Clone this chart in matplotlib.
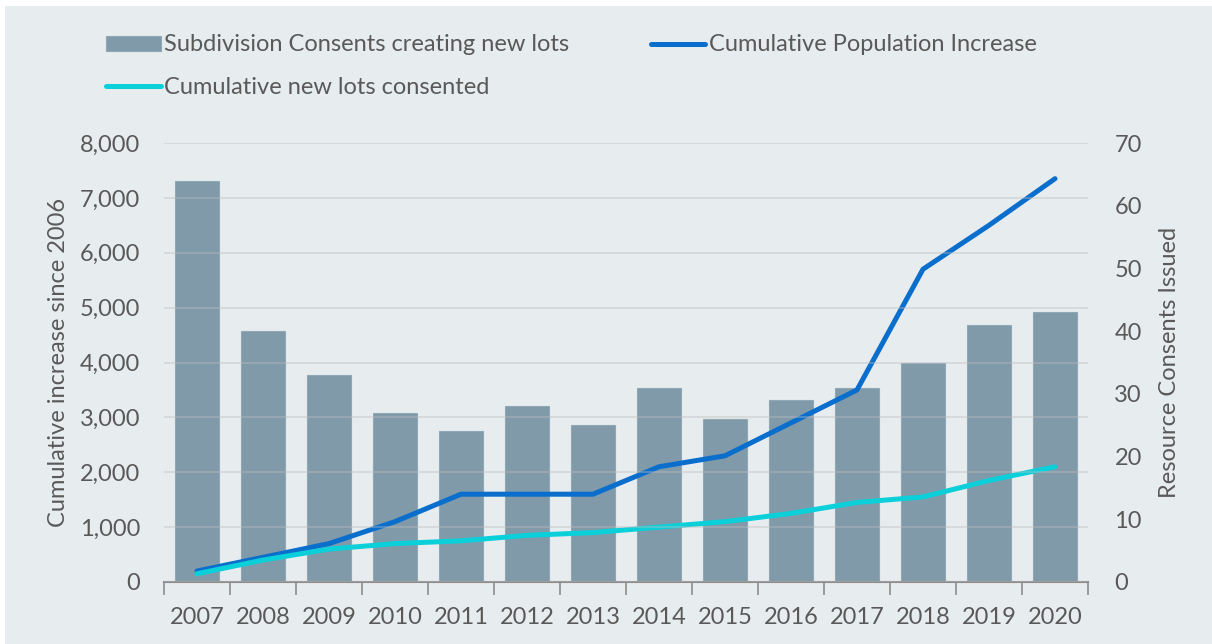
import matplotlib

matplotlib.use("Agg")
import matplotlib.pyplot as plt
from matplotlib.patches import Rectangle

years = ["2007", "2008", "2009", "2010", "2011", "2012", "2013",
         "2014", "2015", "2016", "2017", "2018", "2019", "2020"]
consents = [64, 40, 33, 27, 24, 28, 25, 31, 26, 29, 31, 35, 41, 43]
pop_increase = [200, 450, 700, 1100, 1600, 1600, 1600, 2100, 2300, 2900,
                3500, 5700, 6500, 7350]
lots_cum = [150, 400, 600, 700, 750, 850, 900, 1000, 1100, 1250, 1450,
            1550, 1850, 2100]

BG = "#E7ECEE"
TXT = "#595959"
BAR = "#7D98A8"
POP = "#0A6ECC"
LOTS = "#0BD0DA"
FS = 17

plt.rcParams["font.family"] = ["Lato", "DejaVu Sans"]
plt.rcParams["font.size"] = FS

fig = plt.figure(figsize=(12.12, 6.44), dpi=100, facecolor="white")
fig.patches.append(Rectangle((5 / 1212, 0), 1, 1 - 6 / 644,
                             transform=fig.transFigure, facecolor=BG,
                             edgecolor="none", zorder=-10))

# axes box: x 164..1088, y 143..582 (pixels from top-left)
ax = fig.add_axes([164 / 1212, 1 - 582 / 644, 924 / 1212, 439 / 644])
ax2 = ax.twinx()
ax.set_zorder(2)
ax2.set_zorder(1)
ax.patch.set_visible(False)
ax2.patch.set_visible(False)

x = list(range(len(years)))

bars = ax2.bar(x, consents, width=0.67, color=BAR, edgecolor="#8FA8B6",
               linewidth=0.8, alpha=0.97, label="Subdivision Consents creating new lots")
ax2.set_ylim(0, 70)
ax2.set_yticks(range(0, 71, 10))

l_pop, = ax.plot(x, pop_increase, color=POP, lw=3.6, solid_capstyle="round",
                 solid_joinstyle="round", label="Cumulative Population Increase")
l_lots, = ax.plot(x, lots_cum, color=LOTS, lw=3.6, solid_capstyle="round",
                  solid_joinstyle="round", label="Cumulative new lots consented")

ax.set_xlim(-0.5, len(years) - 0.5)
ax.set_ylim(0, 8000)
ax.set_yticks(range(0, 8001, 1000))
ax.set_yticklabels([f"{v:,}" for v in range(0, 8001, 1000)])
ax.grid(axis="y", color="#BDBDBD", alpha=0.45, lw=1.2)
ax.set_axisbelow(False)

ax.set_xticks(x)
ax.set_xticklabels(years)
ax.set_xticks([i - 0.5 for i in range(len(years) + 1)], minor=True)
ax.tick_params(axis="x", which="major", length=0, pad=18, colors=TXT, labelsize=FS)
ax.tick_params(axis="x", which="minor", length=9, width=1.2, color="#8C8C8C")
ax.tick_params(axis="y", length=0, pad=17, colors=TXT, labelsize=FS)
ax2.tick_params(axis="y", length=0, pad=19, colors=TXT, labelsize=FS)
ax2.tick_params(axis="x", length=0)

for a in (ax, ax2):
    for s in a.spines.values():
        s.set_visible(False)
ax.spines["bottom"].set_visible(True)
ax.spines["bottom"].set_color("#8C8C8C")
ax.spines["bottom"].set_linewidth(1.5)

ax.set_ylabel("Cumulative increase since 2006", color=TXT, fontsize=FS, labelpad=8)
ax2.set_ylabel("Resource Consents Issued", color=TXT, fontsize=FS, labelpad=12)

fig.legend([bars, l_lots, l_pop],
           [bars.get_label(), l_lots.get_label(), l_pop.get_label()],
           ncol=2, loc="upper left", bbox_to_anchor=(97 / 1212, 1 - 25 / 644),
           frameon=False, fontsize=FS, labelcolor=TXT, handlelength=2.3,
           handleheight=0.6, handletextpad=0.15, columnspacing=3.45,
           labelspacing=0.9, borderaxespad=0)

fig.savefig("out.png", dpi=100, facecolor="white")
